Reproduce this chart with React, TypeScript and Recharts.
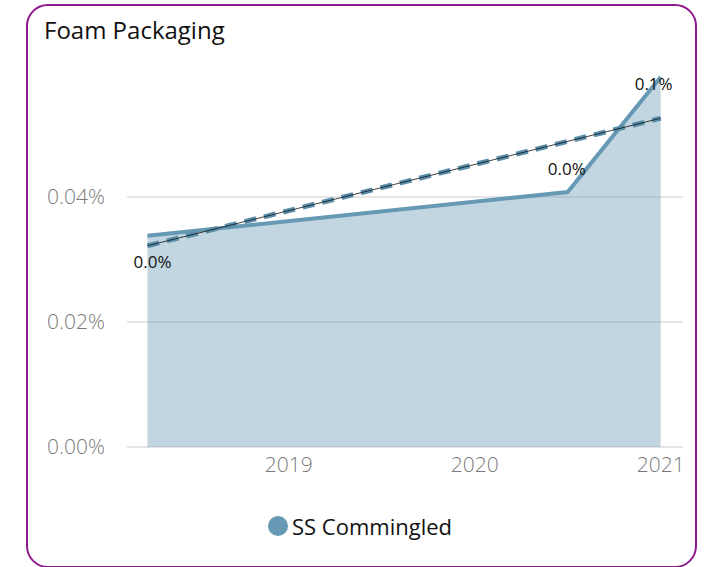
import React from "react";
import { ComposedChart, Area, Line, XAxis, YAxis, CartesianGrid, LabelList } from "recharts";

const years = [2018.24, 2020.5, 2021];
const commingled = [0.000338, 0.000408, 0.000592];
const trend = [0.000322, null, 0.000526];
const xTicks = [2019, 2020, 2021];
const yTicks = [0, 0.0002, 0.0004];

const data = years.map((year, i) => ({ year, value: commingled[i], trend: trend[i] }));

const FONT = "'Open Sans', 'Noto Sans', sans-serif";
const BLUE = "#6699b4";

const pct = (v: number, d: number) => `${(v * 100).toFixed(d)}%`;

// label offsets per point, first one sits under the line
const labelShift = [
  { dx: 5, dy: 28 },
  { dx: -1, dy: -22 },
  { dx: -7, dy: 8 },
];

const PointLabel = (props: any) => {
  const { x, y, value, index } = props;
  const s = labelShift[index] || { dx: 0, dy: -12 };
  return (
    <text x={x + s.dx} y={y + s.dy} textAnchor="middle" dominantBaseline="middle" fontSize={17} fontWeight={500} fill="#111" fontFamily={FONT}>
      {pct(value, 1)}
    </text>
  );
};

const tickStyle = { fill: "#7a7a7a", fontSize: 21, fontWeight: 300, fontFamily: FONT };

const App = () => (
  <div style={{ position: "absolute", left: 0, top: 0, width: 708, height: 567, background: "#fff", overflow: "hidden" }}>
    <div
      style={{
        position: "absolute",
        left: 26,
        top: 4,
        width: 667,
        height: 560,
        border: "2px solid #8e1a8e",
        borderRadius: 22,
      }}
    />
    <div style={{ position: "absolute", left: 44, top: 13, fontFamily: FONT, fontSize: 24, color: "#111" }}>Foam Packaging</div>
    <div style={{ position: "absolute", left: 0, top: 0 }}>
      <ComposedChart width={708} height={567} data={data} margin={{ top: 72, right: 25, bottom: 80, left: 0 }}>
        <CartesianGrid vertical={false} horizontalValues={yTicks} stroke="#e6e6e6" strokeWidth={2} />
        <XAxis
          dataKey="year"
          type="number"
          domain={[2018.13, 2021.12]}
          ticks={xTicks}
          axisLine={false}
          tickLine={false}
          tickSize={0}
          tickMargin={10}
          height={40}
          tick={tickStyle}
        />
        <YAxis
          type="number"
          domain={[0, 0.0006]}
          ticks={yTicks}
          width={127}
          axisLine={false}
          tickLine={false}
          tickSize={0}
          tickMargin={22}
          tickFormatter={(v: number) => pct(v, 2)}
          tick={tickStyle}
        />
        <Area type="linear" dataKey="value" stroke={BLUE} strokeWidth={4} fill={BLUE} fillOpacity={0.4} isAnimationActive={false} dot={false} activeDot={false}>
          <LabelList dataKey="value" content={PointLabel} />
        </Area>
        <Line type="linear" dataKey="trend" stroke="#5a8fab" strokeWidth={5} strokeDasharray="12 8" connectNulls dot={false} isAnimationActive={false} />
        <Line type="linear" dataKey="trend" stroke="#111" strokeWidth={0.8} connectNulls dot={false} isAnimationActive={false} />
      </ComposedChart>
    </div>
    <div style={{ position: "absolute", left: 268, top: 511, display: "flex", alignItems: "center", fontFamily: FONT, fontSize: 22, color: "#111" }}>
      <span style={{ display: "inline-block", width: 20, height: 20, borderRadius: "50%", background: BLUE, marginRight: 4 }} />
      SS Commingled
    </div>
  </div>
);

export default App;
